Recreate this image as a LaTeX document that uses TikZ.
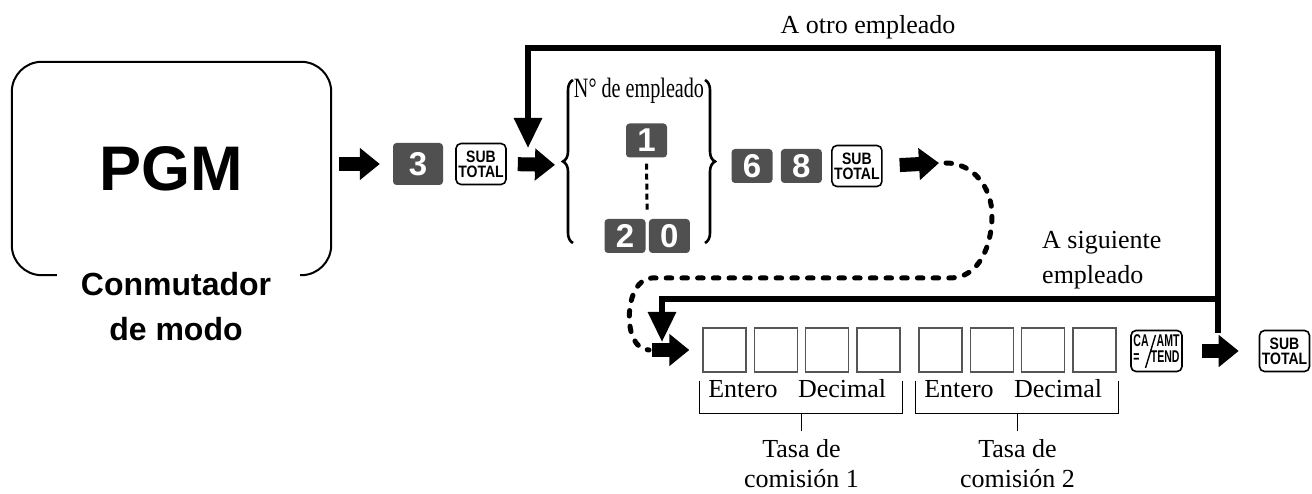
\documentclass[tikz,border=0pt]{standalone}
\usepackage{fontspec}
\setmainfont{Liberation Serif}
\setsansfont{Liberation Sans}
\usepackage{graphicx}
\usetikzlibrary{arrows.meta,positioning,calc,decorations.pathreplacing}
\definecolor{KeyGray}{HTML}{505050}
\definecolor{BoxEdge}{HTML}{555555}

\tikzset{
  numkey/.style={fill=KeyGray,rounded corners=3.5pt,text=white,inner sep=0pt,
    minimum width=41pt,minimum height=34pt,font=\sffamily\bfseries\fontsize{33}{33}\selectfont},
  fnkey/.style={draw,line width=1.6pt,rounded corners=5pt,fill=white,align=center,inner sep=0pt,
    minimum width=50pt,minimum height=41pt,font=\sffamily\bfseries\fontsize{16.5}{15}\selectfont},
  digitbox/.style={draw=BoxEdge,line width=1.4pt,minimum width=43pt,minimum height=44pt,inner sep=0pt},
  fatarrow/.style={line width=14pt,-{Triangle[length=20pt,width=31pt]}},
  loopline/.style={line width=6pt,-{Triangle[length=30pt,width=27pt]}},
  dotline/.style={line width=5pt,line cap=round,dash pattern=on 5.5pt off 10.2pt},
  lbl/.style={inner sep=0pt,font=\fontsize{26}{31}\selectfont},
  bracket/.style={line width=1pt},
  curly/.style={line width=2.6pt,decorate,decoration={brace,amplitude=10pt}},
}
\newcommand{\subtotal}{\scalebox{0.85}[1]{SUB}\\\scalebox{0.85}[1]{TOTAL}}

\begin{document}
\begin{tikzpicture}[x=1pt,y=-1pt]
\useasboundingbox (0,0) rectangle (1312,494);

% mode switch
\node[inner sep=0pt,minimum width=319pt,minimum height=213pt,
  font=\sffamily\bfseries\fontsize{63}{63}\selectfont] (pgm) at (171.5,168.5) {PGM};
\draw[line width=2pt,rounded corners=30pt] ([xshift=45pt]pgm.south west) -- (pgm.south west)
  -- (pgm.north west) -- (pgm.north east) -- (pgm.south east) -- ([xshift=-31pt]pgm.south east);
\node[anchor=north,align=center,inner sep=0pt,font=\sffamily\bfseries\fontsize{32}{45}\selectfont]
  (mode) at (176,272) {Conmutador\\de modo};

% first row of keys
\node[numkey,minimum width=50pt,minimum height=42pt] (k3) at (418,164) {3};
\node[fnkey,right=12pt of k3] (st1) {\subtotal};
\node[numkey] (k1) at (646.5,140.5) {1};
\node[numkey] (k2) at (625,236) {2};
\node[numkey,right=3pt of k2] (k0) {0};
\node[numkey] (k6) at (752,166) {6};
\node[numkey,right=8pt of k6] (k8) {8};
\node[fnkey,right=9pt of k8] (st2) {\subtotal};
\draw[line width=3pt,dash pattern=on 6pt off 4pt,shorten <=6pt,shorten >=8pt]
  (k1.south) -- ($(k2.north east)!0.5!(k0.north west)$);

% employee number
\draw[curly] (573,243) -- (573,80);
\draw[curly] (705,80) -- (705,243);
\node[lbl,anchor=base,font=\fontsize{28}{30}\selectfont] (empno) at (639,98)
  {\scalebox{0.72}[1]{N° de empleado}};
\coordinate (lbrace) at (562,165);

% rate boxes
\foreach \i/\x in {1/724.5,2/775.8,3/827.1,4/878.4,5/940.5,6/991.8,7/1043.1,8/1094.4}
  \node[digitbox] (b\i) at (\x,350) {};
\node[fnkey,minimum width=51pt] (ca) at (1156.5,351) {\scalebox{0.62}[1]{%
  \fontsize{17}{15}\selectfont\begin{tabular}{@{}l@{\hspace{3.5pt}}r@{}}CA&AMT\\=&TEND\end{tabular}}};
\draw[line width=1.4pt] ([xshift=-11pt,yshift=-17pt]ca.center) -- ([xshift=-1pt,yshift=16pt]ca.center);
\node[fnkey] (st3) at (1284.5,351) {\subtotal};

\foreach \a/\b/\c/\d/\n in {b1/b2/b3/b4/1,b5/b6/b7/b8/2}{
  \draw[bracket] ([shift={(-3,8)}]\a.south west) |- ([shift={(2,41)}]\d.south east)
    -- ([shift={(2,8)}]\d.south east);
  \coordinate (mid\n) at ($(\a.south west)!0.5!(\d.south east)+(0,41)$);
  \draw[bracket] (mid\n) -- ++(0,17) coordinate (tick\n);
  \node[lbl,anchor=base] at ($(\a.center)+(18.5,47)$) {Entero};
  \node[lbl,anchor=base] at ($(\c.center)+(15,47)$) {Decimal};
  \node[lbl,anchor=north,align=center,font=\fontsize{26}{30}\selectfont] (rate\n)
    at ([yshift=-9pt]tick\n) {Tasa de\\comisión \n};
}

% flow arrows
\draw[fatarrow,shorten <=8pt,shorten >=13pt] (pgm.east |- k3) -- (k3.west);
\draw[fatarrow,shorten <=11pt,shorten >=7pt] (st1.east) -- (lbrace);
\coordinate (dotA) at (946,163);
\draw[fatarrow,shorten <=17pt] (st2.east) -- (dotA -| 939,0);
\coordinate (dotB) at (649,350);
\draw[fatarrow,shorten <=3pt,shorten >=13pt] (dotB) -- (b1.west);
\draw[fatarrow,shorten <=19pt,shorten >=20pt] (ca.east) -- (st3.west);

% dotted continuation
\draw[dotline] (dotA) to[out=0,in=90] (992,215) to[out=-90,in=0] (950,278)
  -- (652,278) to[out=180,in=180] (dotB);

% loops back
\coordinate (split) at (1218,333);
\coordinate (branch) at (1218,299);
\coordinate (toOther) at (528,148);
\coordinate (toNext) at (662,342);
\draw[loopline] (split) -- ++(0,-285) -| (toOther);
\draw[loopline] (branch) -| (toNext);
\node[lbl,anchor=base] (other) at (868,34) {A otro empleado};
\node[lbl,anchor=north west,align=left,font=\fontsize{26}{35}\selectfont] (next) at (1042,231)
  {A siguiente\\empleado};
\end{tikzpicture}
\end{document}
